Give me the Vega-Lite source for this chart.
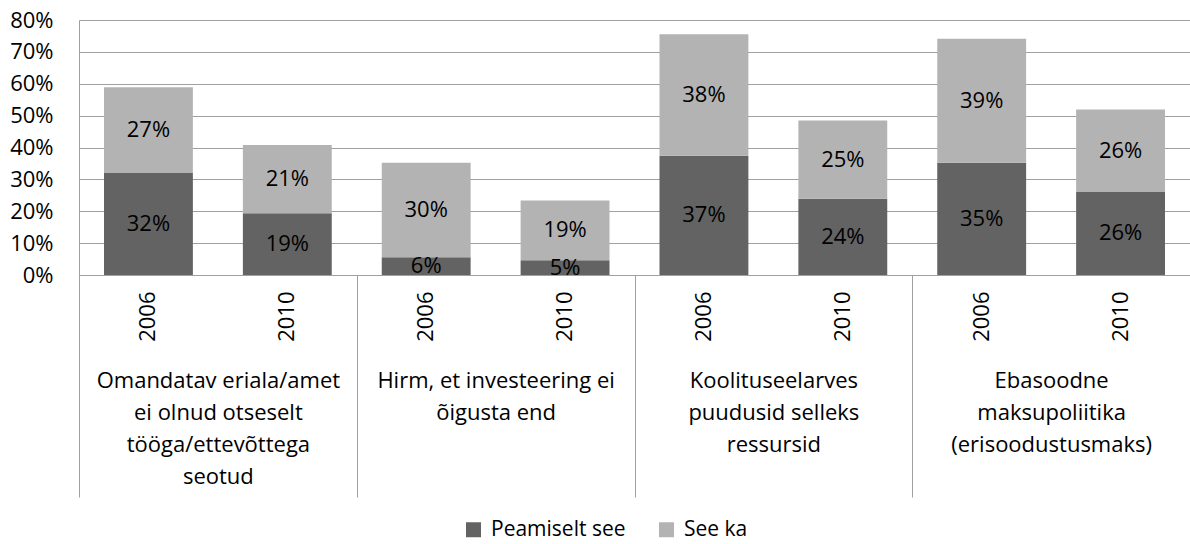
{
  "$schema": "https://vega.github.io/schema/vega-lite/v6.json",
  "width": 1111,
  "height": 255,
  "autosize": {"type": "none"},
  "padding": {"left": 79, "top": 20, "right": 0, "bottom": 269},
  "background": "white",
  "config": {
    "font": "Open Sans",
    "view": {"stroke": null},
    "axis": {"labelColor": "#000000", "labelFontSize": 22, "titleFontSize": 22},
    "axisY": {
      "title": null,
      "format": ".0%",
      "values": [0, 0.1, 0.2, 0.3, 0.4, 0.5, 0.6, 0.7, 0.8],
      "labelOverlap": false,
      "grid": true,
      "gridColor": "#a0a0a0",
      "gridWidth": 1,
      "domain": true,
      "domainColor": "#a0a0a0",
      "ticks": false,
      "labelPadding": 26
    }
  },
  "data": {
    "values": [
      {"cat": "Omandatav eriala/amet|ei olnud otseselt|tööga/ettevõttega|seotud", "key": "A|2006", "series": "Peamiselt see", "ord": 1, "v": 0.32},
      {"cat": "Omandatav eriala/amet|ei olnud otseselt|tööga/ettevõttega|seotud", "key": "A|2006", "series": "See ka", "ord": 2, "v": 0.269},
      {"cat": "Omandatav eriala/amet|ei olnud otseselt|tööga/ettevõttega|seotud", "key": "A|2010", "series": "Peamiselt see", "ord": 1, "v": 0.194},
      {"cat": "Omandatav eriala/amet|ei olnud otseselt|tööga/ettevõttega|seotud", "key": "A|2010", "series": "See ka", "ord": 2, "v": 0.214},
      {"cat": "Hirm, et investeering ei|õigusta end", "key": "B|2006", "series": "Peamiselt see", "ord": 1, "v": 0.056},
      {"cat": "Hirm, et investeering ei|õigusta end", "key": "B|2006", "series": "See ka", "ord": 2, "v": 0.296},
      {"cat": "Hirm, et investeering ei|õigusta end", "key": "B|2010", "series": "Peamiselt see", "ord": 1, "v": 0.046},
      {"cat": "Hirm, et investeering ei|õigusta end", "key": "B|2010", "series": "See ka", "ord": 2, "v": 0.188},
      {"cat": "Koolituseelarves|puudusid selleks|ressursid", "key": "C|2006", "series": "Peamiselt see", "ord": 1, "v": 0.374},
      {"cat": "Koolituseelarves|puudusid selleks|ressursid", "key": "C|2006", "series": "See ka", "ord": 2, "v": 0.381},
      {"cat": "Koolituseelarves|puudusid selleks|ressursid", "key": "C|2010", "series": "Peamiselt see", "ord": 1, "v": 0.239},
      {"cat": "Koolituseelarves|puudusid selleks|ressursid", "key": "C|2010", "series": "See ka", "ord": 2, "v": 0.246},
      {"cat": "Ebasoodne|maksupoliitika|(erisoodustusmaks)", "key": "D|2006", "series": "Peamiselt see", "ord": 1, "v": 0.352},
      {"cat": "Ebasoodne|maksupoliitika|(erisoodustusmaks)", "key": "D|2006", "series": "See ka", "ord": 2, "v": 0.389},
      {"cat": "Ebasoodne|maksupoliitika|(erisoodustusmaks)", "key": "D|2010", "series": "Peamiselt see", "ord": 1, "v": 0.262},
      {"cat": "Ebasoodne|maksupoliitika|(erisoodustusmaks)", "key": "D|2010", "series": "See ka", "ord": 2, "v": 0.257}
    ]
  },
  "layer": [
    {
      "encoding": {
        "x": {
          "field": "key",
          "type": "nominal",
          "sort": null,
          "scale": {"type": "band", "paddingInner": 0.36, "paddingOuter": 0.18},
          "axis": {
            "orient": "bottom",
            "title": null,
            "labelExpr": "split(datum.label, '|')[1]",
            "labelAngle": -90,
            "labelPadding": 16,
            "labelOverlap": false,
            "ticks": false,
            "domain": true,
            "domainColor": "#a0a0a0",
            "domainWidth": 1,
            "grid": false
          }
        }
      },
      "layer": [
        {
          "mark": {"type": "bar"},
          "encoding": {
            "y": {
              "field": "v",
              "type": "quantitative",
              "stack": "zero",
              "scale": {"domain": [0, 0.8], "nice": false}
            },
            "color": {
              "field": "series",
              "type": "nominal",
              "scale": {"domain": ["Peamiselt see", "See ka"], "range": ["#636363", "#b3b3b3"]},
              "legend": {
                "orient": "none",
                "legendX": 384,
                "legendY": 499,
                "direction": "horizontal",
                "title": null,
                "symbolType": "square",
                "symbolSize": 225,
                "symbolStrokeWidth": 0,
                "labelFontSize": 21,
                "labelColor": "#000000",
                "labelOffset": 7,
                "columnPadding": 30
              }
            },
            "order": {"field": "ord", "type": "quantitative"}
          }
        },
        {
          "transform": [
            {"stack": "v", "groupby": ["key"], "sort": [{"field": "ord"}], "as": ["y0", "y1"]},
            {"calculate": "(datum.y0 + datum.y1) / 2", "as": "mid"}
          ],
          "mark": {"type": "text", "fontSize": 22, "color": "#000000", "baseline": "middle", "align": "center"},
          "encoding": {
            "y": {"field": "mid", "type": "quantitative"},
            "text": {"field": "v", "type": "quantitative", "format": ".0%"}
          }
        }
      ]
    },
    {
      "mark": {"type": "text", "opacity": 0},
      "encoding": {
        "text": {"value": ""},
        "x": {
          "field": "cat",
          "type": "nominal",
          "sort": null,
          "scale": {"type": "band", "paddingInner": 0, "paddingOuter": 0},
          "axis": {
            "orient": "bottom",
            "title": null,
            "domain": false,
            "grid": false,
            "tickBand": "extent",
            "tickSize": 222,
            "tickColor": "#a0a0a0",
            "tickWidth": 1,
            "labelExpr": "split(datum.label, '|')",
            "labelAngle": 0,
            "labelAlign": "center",
            "labelBaseline": "top",
            "labelPadding": -127,
            "labelLineHeight": 32,
            "labelLimit": 0,
            "labelOverlap": false
          }
        }
      }
    }
  ],
  "resolve": {"scale": {"x": "independent"}}
}
